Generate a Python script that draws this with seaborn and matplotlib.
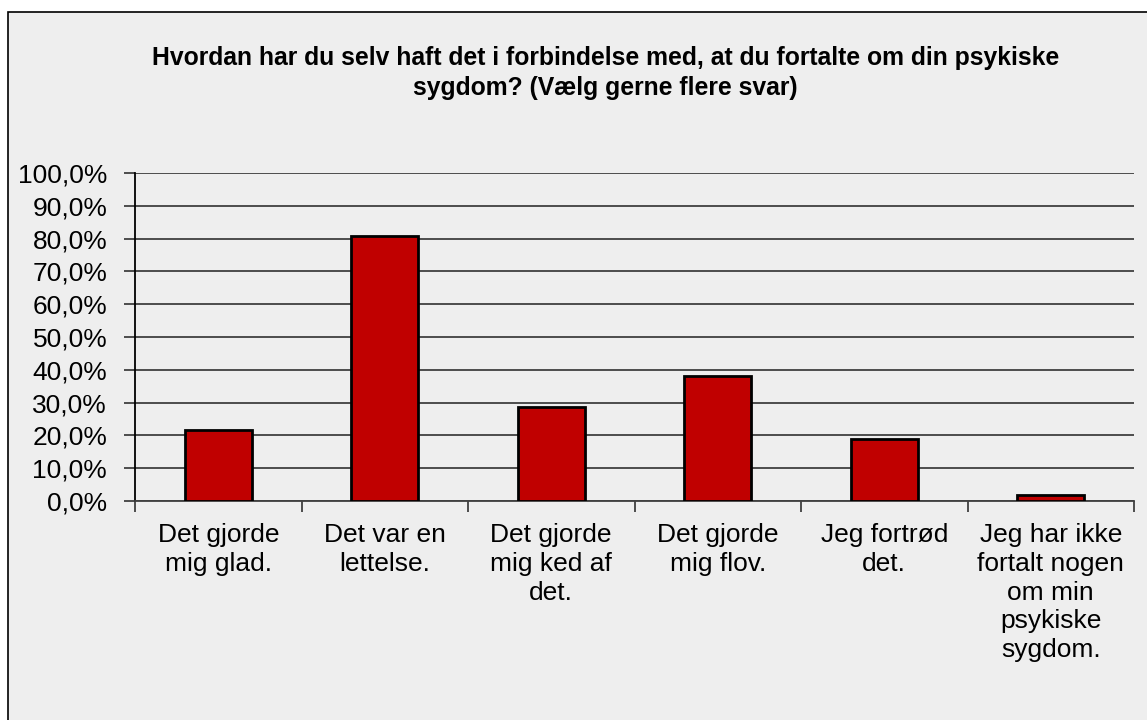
import matplotlib
matplotlib.use('Agg')
import matplotlib.pyplot as plt
import seaborn as sns
import pandas as pd
from matplotlib.patches import Rectangle
from matplotlib.ticker import FixedLocator, FuncFormatter

categories = ['Det gjorde\nmig glad.', 'Det var en\nlettelse.', 'Det gjorde\nmig ked af\ndet.',
              'Det gjorde\nmig flov.', 'Jeg fortrød\ndet.',
              'Jeg har ikke\nfortalt nogen\nom min\npsykiske\nsygdom.']
values = [21.6, 80.9, 28.6, 38.1, 18.8, 1.7]
title = 'Hvordan har du selv haft det i forbindelse med, at du fortalte om din psykiske\nsygdom? (Vælg gerne flere svar)'

sns.set_style('white')
plt.rcParams['font.family'] = ['Liberation Sans', 'DejaVu Sans']
plt.rcParams['text.color'] = 'black'
plt.rcParams['xtick.color'] = 'black'
plt.rcParams['ytick.color'] = 'black'
bg = '#eeeeee'

df = pd.DataFrame({'svar': categories, 'pct': values})

fig = plt.figure(figsize=(11.47, 7.2), dpi=100)
fig.patch.set_facecolor('white')
# chart frame like the Excel chart area
frame = Rectangle((8 / 1147, -0.05), 1.1, 1 - 12 / 720 + 0.05, transform=fig.transFigure,
                  facecolor=bg, edgecolor='black', linewidth=1.2, zorder=-5)
fig.patches.append(frame)

ax = fig.add_axes([135 / 1147, 1 - 501 / 720, (1134 - 135) / 1147, (501 - 173) / 720])
ax.set_facecolor(bg)

sns.barplot(data=df, x='svar', y='pct', ax=ax, color='#c00000', width=0.4, edgecolor='black',
            linewidth=2, saturation=1, zorder=3)

ax.set_ylim(0, 100)
ax.set_xlim(-0.5, 5.5)
ax.set_yticks(range(0, 101, 10))
ax.yaxis.set_major_formatter(FuncFormatter(lambda v, p: f'{v:.1f}%'.replace('.', ',')))
ax.grid(axis='y', color='#404040', linewidth=1.3, zorder=0)
ax.set_axisbelow(True)

ax.tick_params(axis='y', which='major', length=8, width=1.3, color='#404040', labelsize=19, pad=12,
               left=True, direction='out', labelcolor='black')
ax.tick_params(axis='x', which='major', length=0, labelsize=19, pad=16, labelcolor='black')
ax.xaxis.set_minor_locator(FixedLocator([i - 0.5 for i in range(7)]))
ax.tick_params(axis='x', which='minor', length=8, width=1.3, color='#404040', bottom=True, direction='out')

for s in ['top', 'right']:
    ax.spines[s].set_visible(False)
ax.spines['left'].set_color('black')
ax.spines['left'].set_linewidth(1.3)
ax.spines['bottom'].set_color('#404040')
ax.spines['bottom'].set_linewidth(1.3)

for lbl in ax.get_xticklabels():
    lbl.set_linespacing(1.25)
    lbl.set_verticalalignment('top')

ax.set_xlabel(None)
ax.set_ylabel(None)

fig.text(0.528, 1 - 46 / 720, title, ha='center', va='top', fontsize=17.8, fontweight='bold',
         linespacing=1.3, color='black')

plt.savefig('out.png', dpi=100)
